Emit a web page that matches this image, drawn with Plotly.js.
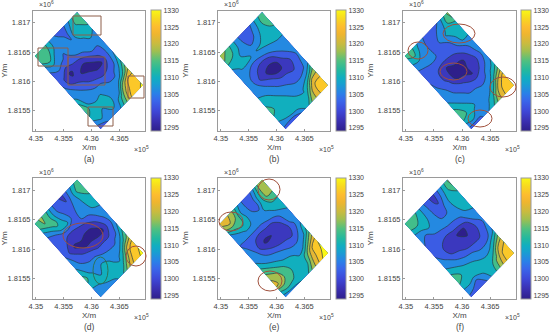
<!DOCTYPE html>
<html><head><meta charset="utf-8">
<script src="https://cdn.plot.ly/plotly-3.0.1.min.js"></script>
<style>html,body{margin:0;padding:0;background:#fff}#c{width:550px;height:335px}</style>
</head><body><div id="c"></div>
<script>
const panelLabels=['(a)','(b)','(c)','(d)','(e)','(f)'];
const xTickVals=[435000,435500,436000,436500];
const xTickText=['4.35','4.355','4.36','4.365'];
const yTickVals=[1815500,1816000,1816500,1817000];
const yTickText=['1.8155','1.816','1.8165','1.817'];
const cbarTicks=[1295,1300,1305,1310,1315,1320,1325,1330];
const cornerL=[434980,1816432], cornerT=[435741,1817184], cornerB=[436164,1815179];
const zA=[
[1316,1316,1312,1306,1303,1302,1306,1312,1316],
[1315,1316,1311,1306,1305,1303,1309,1313,1316],
[1308,1312,1307,1305,1306,1304,1311,1309,1313],
[1304,1306,1305,1303,1307,1305,1307,1310,1308],
[1303,1303,1300,1301,1303,1305,1305,1307,1307],
[1303,1299,1295,1298,1297,1300,1304,1304,1308],
[1305,1300,1297,1296,1294,1296,1299,1303,1306],
[1306,1304,1302,1298,1297,1295,1296,1302,1308],
[1309,1306,1304,1302,1300,1299,1300,1303,1310],
[1314,1306,1307,1305,1305,1302,1303,1306,1314],
[1316,1310,1308,1309,1304,1306,1305,1312,1320],
[1311,1312,1309,1311,1307,1304,1316,1324,1325],
[1305,1309,1305,1310,1306,1313,1322,1327,1327],
[1302,1302,1306,1304,1309,1316,1325,1327,1329]];
const zB=[
[1317,1316,1311,1306,1301,1300,1306,1311,1316],
[1316,1314,1310,1306,1302,1303,1307,1312,1316],
[1310,1309,1308,1305,1304,1305,1309,1311,1313],
[1305,1309,1310,1308,1308,1309,1310,1310,1310],
[1305,1306,1304,1303,1304,1306,1307,1308,1308],
[1305,1304,1301,1298,1297,1300,1304,1306,1307],
[1306,1304,1299,1296,1295,1296,1301,1304,1306],
[1307,1306,1303,1300,1296,1296,1297,1302,1305],
[1309,1308,1306,1303,1301,1300,1299,1302,1306],
[1312,1310,1308,1306,1304,1302,1302,1303,1308],
[1314,1311,1310,1308,1306,1305,1305,1309,1317],
[1311,1310,1310,1310,1308,1307,1312,1322,1322],
[1306,1308,1310,1310,1309,1310,1320,1326,1327],
[1303,1301,1300,1304,1309,1316,1321,1326,1328]];
const zC=[
[1313,1314,1309,1305,1302,1301,1304,1310,1318],
[1311,1312,1307,1304,1302,1304,1306,1312,1316],
[1306,1307,1307,1304,1303,1305,1309,1310,1309],
[1303,1304,1305,1304,1302,1303,1305,1310,1310],
[1303,1302,1301,1301,1301,1302,1304,1308,1308],
[1304,1302,1299,1296,1297,1298,1301,1304,1307],
[1305,1302,1299,1295,1295,1295,1298,1303,1306],
[1306,1304,1301,1296,1295,1296,1297,1301,1306],
[1307,1305,1303,1301,1298,1296,1299,1303,1307],
[1310,1307,1305,1303,1302,1301,1303,1306,1310],
[1314,1310,1307,1305,1305,1304,1305,1311,1318],
[1316,1312,1310,1306,1305,1306,1311,1321,1326],
[1308,1311,1306,1304,1307,1311,1320,1326,1328],
[1302,1301,1303,1307,1310,1316,1322,1327,1328]];
const zD=[
[1314,1317,1313,1305,1301,1299,1305,1310,1316],
[1312,1316,1312,1305,1301,1300,1306,1313,1316],
[1306,1310,1314,1307,1303,1303,1306,1310,1314],
[1302,1304,1309,1310,1304,1304,1306,1309,1310],
[1301,1302,1301,1301,1302,1304,1305,1308,1309],
[1302,1301,1298,1297,1298,1299,1302,1305,1307],
[1304,1299,1295,1296,1295,1295,1298,1303,1306],
[1306,1302,1299,1296,1296,1295,1295,1301,1306],
[1308,1304,1302,1301,1299,1299,1299,1302,1309],
[1311,1306,1305,1305,1303,1303,1303,1305,1313],
[1314,1309,1306,1308,1307,1305,1305,1311,1318],
[1310,1310,1308,1310,1309,1306,1311,1322,1326],
[1305,1307,1309,1310,1308,1310,1318,1326,1328],
[1304,1305,1305,1307,1310,1316,1323,1327,1329]];
const zE=[
[1322,1322,1318,1310,1304,1300,1306,1316,1318],
[1318,1320,1316,1308,1304,1301,1309,1317,1318],
[1308,1312,1314,1309,1305,1301,1310,1316,1316],
[1305,1306,1309,1308,1306,1307,1309,1312,1312],
[1304,1304,1304,1304,1304,1306,1307,1309,1309],
[1305,1303,1300,1298,1299,1299,1302,1306,1308],
[1307,1304,1298,1295,1296,1297,1299,1305,1307],
[1308,1306,1302,1299,1297,1296,1297,1303,1306],
[1312,1308,1306,1304,1302,1301,1300,1304,1310],
[1316,1313,1309,1307,1306,1304,1304,1306,1314],
[1320,1317,1314,1310,1309,1307,1307,1315,1322],
[1322,1318,1315,1312,1310,1309,1316,1325,1328],
[1312,1315,1313,1311,1311,1311,1320,1326,1329],
[1305,1306,1307,1308,1310,1316,1322,1328,1330]];
const zF=[
[1315,1316,1312,1306,1302,1298,1304,1310,1317],
[1313,1314,1310,1307,1302,1299,1305,1311,1316],
[1308,1309,1310,1306,1303,1302,1307,1311,1312],
[1305,1304,1307,1308,1304,1304,1307,1310,1310],
[1304,1303,1303,1304,1305,1305,1306,1309,1310],
[1304,1303,1301,1300,1301,1302,1303,1307,1308],
[1304,1302,1298,1298,1296,1295,1298,1304,1306],
[1306,1303,1299,1298,1298,1296,1298,1301,1305],
[1308,1306,1303,1301,1299,1299,1299,1302,1306],
[1312,1309,1307,1305,1304,1302,1302,1304,1309],
[1315,1312,1310,1309,1307,1306,1306,1311,1318],
[1311,1312,1311,1311,1310,1309,1312,1321,1324],
[1306,1306,1303,1307,1310,1312,1318,1325,1327],
[1303,1301,1300,1304,1309,1313,1320,1326,1328]];
const panels=[zA,zB,zC,zD,zE,zF];

const W=550,H=335;
const colBox=[[33,145],[218,330],[403,516]];
const rowBox=[[10.5,131],[178,299]];
const colBar=[151,336,521];
const barThick=10;
const stops=[0,.08,.167,.25,.31,.39,.44,.5,.58,.66,.72,.8,.86,.93,1];
const stopColors=['#2e1f8a','#3a2fb0','#3e48d8','#3a66ea','#2a80e8','#17a0d0','#10aec0','#22b8a0','#50c080','#a0bf50','#c8bb40','#efb52f','#fdbc2f','#f8d820','#f9f815'];
const colorscale=stops.map((s,i)=>[s,stopColors[i]]);

const rects=[[73,16,101,35],[38,48,68,66],[68,57,105,85],[128,76,144,98],[88,107,113,126]];
const ellipsesBrown=[[443,24,475,43],[408,42,428,59],[490,77,516,97],[468,110,492,127],[440,63,467,80],
 [126,246,146,266],[63,223,103,248],[258,179,280,200],[219,212,243,231],[258,271,282,291]];
const ellipsesGreen=[[93,257,108,284]];

const data=[],layout={width:W,height:H,margin:{l:0,r:0,t:0,b:0},paper_bgcolor:'#fff',plot_bgcolor:'#fff',
  showlegend:false,font:{family:'"Liberation Sans",Arial,sans-serif',size:7.5,color:'#444'},shapes:[],annotations:[]};
const px=(x,y,s)=>({xref:'paper',yref:'paper',x:x/W,y:1-y/H,showarrow:false,text:s,font:{size:7,color:'#444'},xanchor:'left',yanchor:'middle'});

panels.forEach((z,k)=>{
  const col=k%3,row=Math.floor(k/3),n=k+1,suf=k?String(n):'';
  const [x0,x1]=colBox[col],[y0,y1]=rowBox[row];
  const ax={showline:true,mirror:true,linecolor:'#9a9a9a',linewidth:1,ticks:'inside',ticklen:2,tickcolor:'#9a9a9a',showgrid:false,zeroline:false,tickfont:{size:7.5,color:'#444'}};
  layout['xaxis'+suf]=Object.assign({},ax,{anchor:'y'+suf,domain:[x0/W,x1/W],range:[434950,436960],tickvals:xTickVals,ticktext:xTickText,
    title:{text:'X/m',standoff:2,font:{size:8,color:'#444'}}});
  layout['yaxis'+suf]=Object.assign({},ax,{anchor:'x'+suf,domain:[1-y1/H,1-y0/H],range:[1815150,1817210],tickvals:yTickVals,ticktext:yTickText,
    title:{text:'Y/m',standoff:2,font:{size:8,color:'#444'}}});
  const nj=z.length,ni=z[0].length;
  const a=z[0].map((_,i)=>i),b=z.map((_,j)=>j);
  const X=b.map(j=>a.map(i=>cornerL[0]+j/(nj-1)*(cornerB[0]-cornerL[0])+i/(ni-1)*(cornerT[0]-cornerL[0])));
  const Y=b.map(j=>a.map(i=>cornerL[1]+j/(nj-1)*(cornerB[1]-cornerL[1])+i/(ni-1)*(cornerT[1]-cornerL[1])));
  const off={showgrid:false,showline:false,startline:false,endline:false,showticklabels:'none',minorgridcount:0,smoothing:0,ticks:''};
  data.push({type:'carpet',carpet:'c'+n,a,b,x:X,y:Y,aaxis:off,baxis:off,xaxis:'x'+suf,yaxis:'y'+suf});
  data.push({type:'contourcarpet',carpet:'c'+n,a,b,z,xaxis:'x'+suf,yaxis:'y'+suf,autocontour:false,showscale:false,
    contours:{start:1296,end:1328,size:4,coloring:'fill',showlines:true},
    line:{color:'#263c46',width:0.7,smoothing:1},
    zmin:1294,zmax:1330,colorscale});
  data.push({type:'scatter',mode:'markers',x:[null,null],y:[null,null],xaxis:'x'+suf,yaxis:'y'+suf,hoverinfo:'skip',
    marker:{color:[1294,1330],cmin:1294,cmax:1330,colorscale,showscale:true,
      colorbar:{x:colBar[col]/W,xanchor:'left',y:1-(y0+y1)/2/H,yanchor:'middle',len:(y1-y0)/H,lenmode:'fraction',
      thickness:barThick,thicknessmode:'pixels',tickvals:cbarTicks,ticks:'',outlinecolor:'#9a9a9a',outlinewidth:1,xpad:0,ypad:0,
      tickfont:{size:7,color:'#444'}}}});
  layout.annotations.push(px(x1-13,y1+18,'×10<sup>5</sup>'));
  layout.annotations.push(px(x0+4,y0-6,'×10<sup>6</sup>'));
  const lab=px((x0+x1)/2,y1+28,panelLabels[k]);lab.xanchor='center';lab.font={size:8.5,color:'#444'};
  layout.annotations.push(lab);
});
const shp=(type,r,color)=>({type,xref:'paper',yref:'paper',x0:r[0]/W,x1:r[2]/W,y0:1-r[1]/H,y1:1-r[3]/H,line:{color,width:1}});
rects.forEach(r=>layout.shapes.push(shp('rect',r,'#8d5f4a')));
ellipsesBrown.forEach(r=>layout.shapes.push(shp('circle',r,'#a0503c')));
ellipsesGreen.forEach(r=>layout.shapes.push(shp('circle',r,'#2d7358')));
Plotly.newPlot('c',data,layout,{displayModeBar:false,staticPlot:true}).then(gd=>{
  gd.querySelectorAll('svg text').forEach(t=>{if(!t.textContent.trim())t.remove();});
});
</script></body></html>
